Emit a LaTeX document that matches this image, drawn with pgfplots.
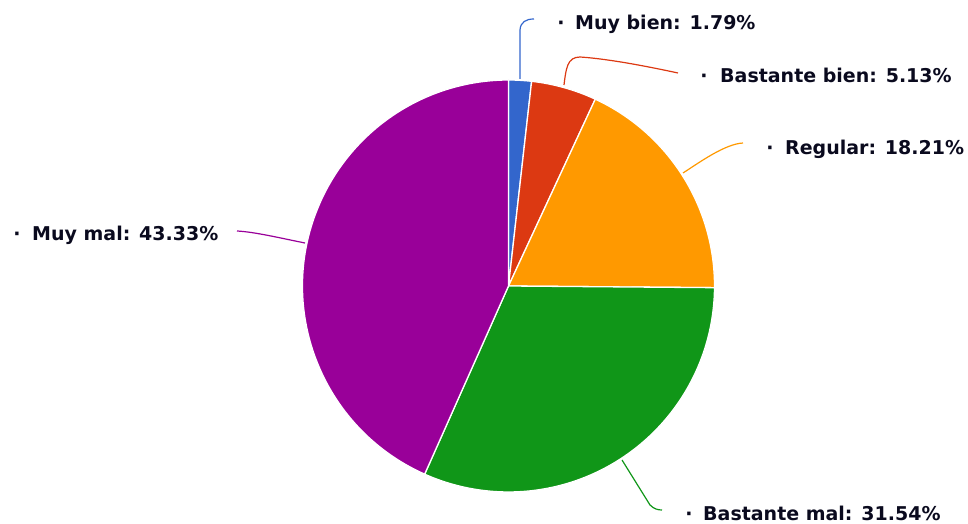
\documentclass[border=0pt]{standalone}
\usepackage{pgfplots}
\pgfplotsset{compat=1.18}
\usepackage{pgfplotstable}
\usepackage{fontspec}
\setmainfont{DejaVu Sans}

\definecolor{slice0}{HTML}{3366CC}
\definecolor{slice1}{HTML}{DC3912}
\definecolor{slice2}{HTML}{FF9900}
\definecolor{slice3}{HTML}{109618}
\definecolor{slice4}{HTML}{990099}
\definecolor{labeltext}{HTML}{0A0A1E}

\tikzset{lbl/.style={font=\bfseries\fontsize{19}{23}\selectfont, inner sep=0pt, text=labeltext},
  leader/.style={line width=1.2pt}}

% shares in percent, clockwise from the top
\pgfplotstableread{
share
1.79
5.13
18.21
31.54
43.33
}\piedata

\begin{document}
\begin{tikzpicture}
\def\cum{90}
\pgfplotsforeachungrouped \i in {0,...,4}{%
  \pgfplotstablegetelem{\i}{share}\of\piedata
  \pgfmathsetmacro\sliceend{\cum-3.6*\pgfplotsretval}%
  \expandafter\xdef\csname a\i\endcsname{\cum}%
  \expandafter\xdef\csname b\i\endcsname{\sliceend}%
  \xdef\cum{\sliceend}%
}
\begin{axis}[
  x=1pt, y=1pt,
  xmin=0, xmax=968, ymin=0, ymax=524,
  hide axis, clip=false,
]
\pgfplotsinvokeforeach{0,...,4}{%
  \edef\temp{\noexpand\fill[slice#1, draw=white, line width=1.3pt, line join=round]
    (axis cs:508.5,238) -- ++(\csname a#1\endcsname:206pt)
    arc[start angle=\csname a#1\endcsname, end angle=\csname b#1\endcsname, radius=206pt] -- cycle;}%
  \temp
}
% leader lines
\draw[slice0, leader] (axis cs:520,445) -- (axis cs:520,494) .. controls (axis cs:520.5,502) and (axis cs:526,505) .. (axis cs:534,505);
\draw[slice1, leader] (axis cs:564,439) .. controls (axis cs:566,455) and (axis cs:567,467) .. (axis cs:580,467) .. controls (axis cs:610,465) and (axis cs:650,457) .. (axis cs:678,451);
\draw[slice2, leader] (axis cs:683,351) .. controls (axis cs:700,362) and (axis cs:725,380) .. (axis cs:743,381);
\draw[slice4, leader] (axis cs:305,281) .. controls (axis cs:280,286) and (axis cs:255,292) .. (axis cs:237,293);
\draw[slice3, leader] (axis cs:622,64) -- (axis cs:650,19) .. controls (axis cs:654,15) and (axis cs:658,14) .. (axis cs:662,14);
% labels
\node[lbl, anchor=base] at (axis cs:561,494) {·};
\node[lbl, anchor=base west] at (axis cs:575,494) {Muy bien: 1.79\%};
\node[lbl, anchor=base] at (axis cs:704,441) {·};
\node[lbl, anchor=base west] at (axis cs:720,441) {Bastante bien: 5.13\%};
\node[lbl, anchor=base] at (axis cs:770,369) {·};
\node[lbl, anchor=base west] at (axis cs:785,369) {Regular: 18.21\%};
\node[lbl, anchor=base] at (axis cs:17,283) {·};
\node[lbl, anchor=base west] at (axis cs:32,283) {Muy mal: 43.33\%};
\node[lbl, anchor=base] at (axis cs:689,3) {·};
\node[lbl, anchor=base west] at (axis cs:703,3) {Bastante mal: 31.54\%};
\end{axis}
\pgfresetboundingbox
\path[use as bounding box] (current axis.south west) rectangle (current axis.north east);
\end{tikzpicture}
\end{document}
